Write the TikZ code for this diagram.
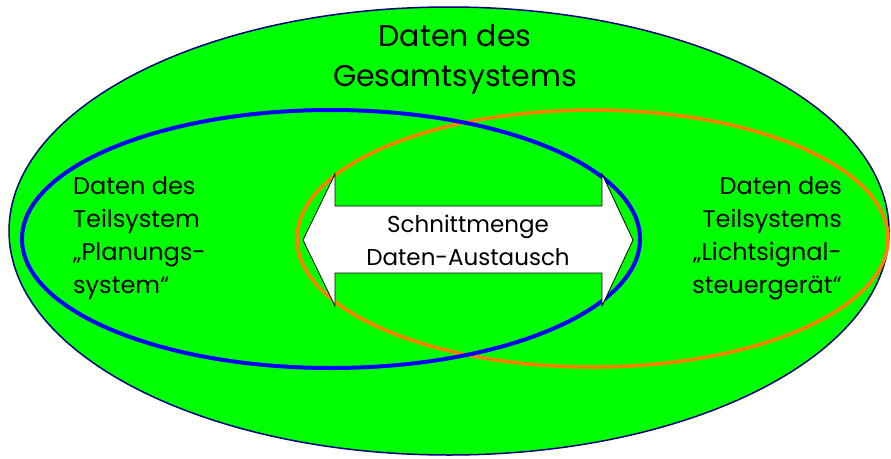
\documentclass[tikz,border=0pt]{standalone}
\usepackage{fontspec}
\setmainfont{Poppins}
\usetikzlibrary{shapes.geometric,positioning}
\definecolor{rahmen}{HTML}{000080}
\definecolor{gruen}{HTML}{00FF00}
\definecolor{planblau}{HTML}{0000FF}
\definecolor{lsaorange}{HTML}{FF8000}

\begin{document}
\begin{tikzpicture}[x=1pt,y=-1pt]
\tikzset{menge/.style={ellipse,draw,inner sep=0pt},
  txt/.style={font=\fontsize{24}{33}\selectfont,inner sep=0pt},
  pfeil/.style={draw=black,fill=white,line width=0.8pt,line join=miter}}
\useasboundingbox (0,0) rectangle (891,458);
\node[menge,fill=gruen,draw=rahmen,line width=1.5pt,minimum width=880pt,minimum height=448pt] (gesamt) at (449,231) {};
\node[menge,draw=lsaorange,line width=3.5pt,minimum width=591pt,minimum height=257pt] (lsa) at (592.5,238.5) {};
\node[menge,draw=planblau,line width=4pt,minimum width=618pt,minimum height=258pt] (plan) at (331,239) {};
% Doppelpfeil Schnittmenge
\coordinate (mitte) at (468,240);
\begin{scope}[shift={(mitte)}]
\draw[pfeil] (-165,0) -- (-133,-66) -- (-133,-34) -- (134,-34) -- (134,-66) -- (165,0)
  -- (134,66) -- (134,33) -- (-133,33) -- (-133,66) -- cycle;
\end{scope}
\node[txt,font=\fontsize{30}{40}\selectfont,align=center] (titel) at (455,59) {Daten des\\Gesamtsystems};
\node[txt,align=left,anchor=west] (plantxt) at (73,238) {Daten des\\Teilsystem\\„Planungs-\\system“};
\node[txt,align=right,anchor=east] (lsatxt) at (842,238) {Daten des\\Teilsystems\\„Lichtsignal-\\steuergerät“};
\node[txt,font=\fontsize{23}{33}\selectfont,align=center] (schnitt) at (mitte) {Schnittmenge\\Daten-Austausch};
\end{tikzpicture}
\end{document}
